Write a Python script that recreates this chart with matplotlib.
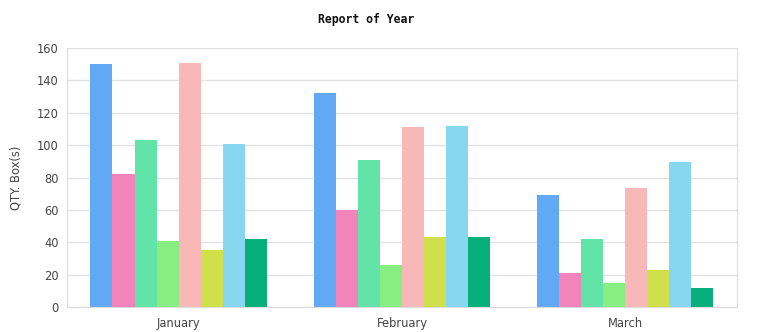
import numpy as np
import matplotlib.pyplot as plt

# monthly quantities per product series
months = ["January", "February", "March"]
s1 = [150, 132, 69]
s2 = [82, 60, 21]
s3 = [103, 91, 42]
s4 = [41, 26, 15]
s5 = [151, 111, 73.5]
s6 = [35, 43, 23]
s7 = [101, 112, 89.5]
s8 = [42, 43, 12]
series = [s1, s2, s3, s4, s5, s6, s7, s8]
colors = ["#61a8f5", "#f283bb", "#62e4a9", "#87ee82",
          "#f7b8b7", "#d0e04b", "#88d7f1", "#07b07a"]

fig = plt.figure(figsize=(7.78, 3.32), dpi=100)
ax = fig.add_axes([0.0861, 0.0753, 0.861, 0.780])

x = np.arange(len(months))
n = len(series)
group_w = 0.79
bw = group_w / n
for i, (vals, c) in enumerate(zip(series, colors)):
    ax.bar(x - group_w / 2 + bw * (i + 0.5), vals, width=bw, color=c,
           linewidth=0, zorder=2)

ax.set_xlim(-0.5, 2.5)
ax.set_ylim(0, 160)
ax.set_yticks(range(0, 161, 20))
ax.set_xticks(x)
ax.set_xticklabels(months)
ax.grid(axis="y", color="#e2e2e2", linewidth=1, zorder=0)
ax.tick_params(length=0, labelsize=8.3, colors="#444444", pad=6)
ax.tick_params(axis="x", pad=7)
for side in ["left", "bottom", "right"]:
    ax.spines[side].set_color("#dcdcdc")
ax.spines["top"].set_visible(False)

ax.set_ylabel("QTY. Box(s)", fontsize=8.3, color="#444444", labelpad=10)
fig.text(0.471, 0.94, "Report of Year", ha="center", va="center",
         fontsize=8.3, fontweight="bold", family="DejaVu Sans Mono",
         color="#111111")

fig.savefig("out.png", dpi=100)
